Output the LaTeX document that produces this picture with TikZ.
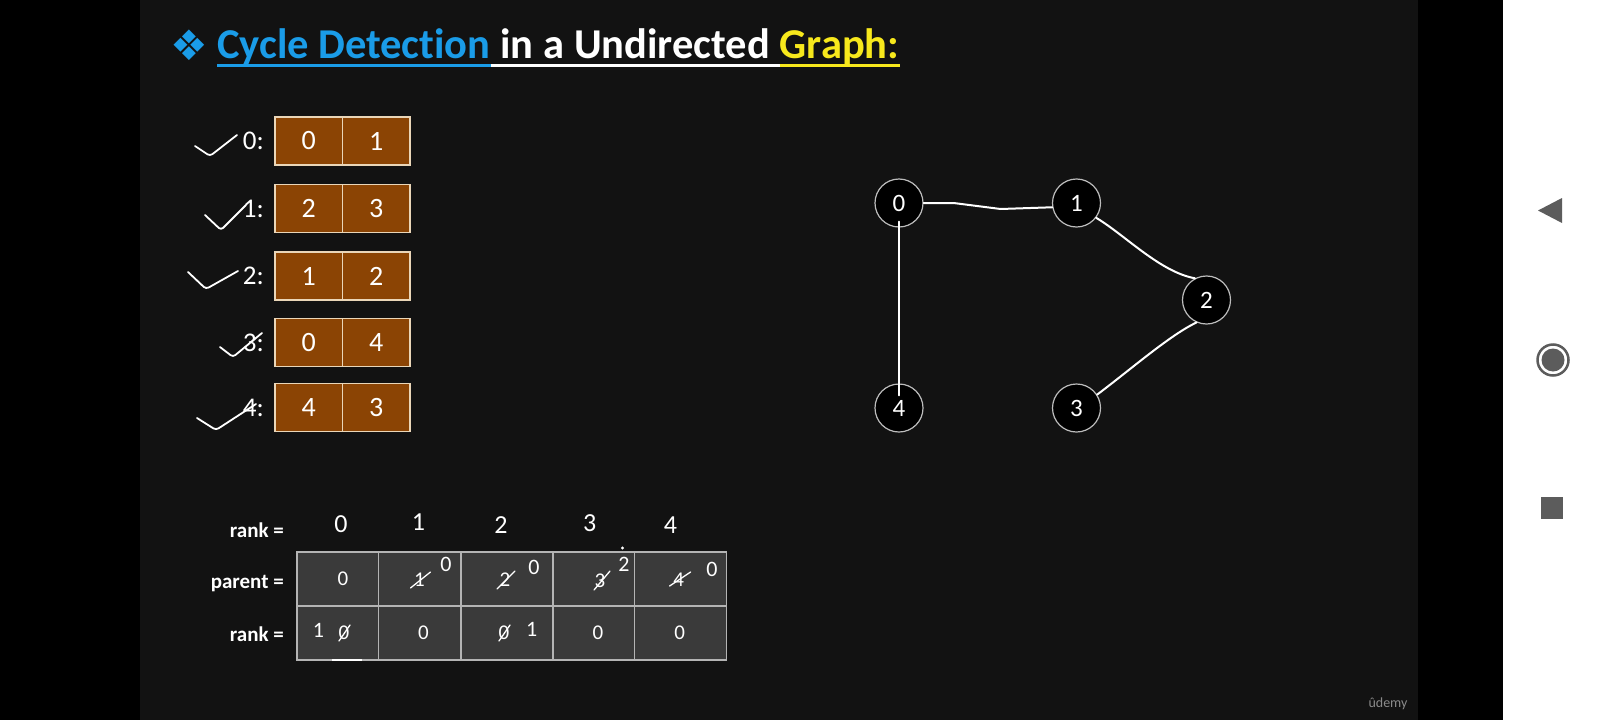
\documentclass[tikz,border=0pt]{standalone}
\usepackage{fontspec}
\setmainfont{Carlito}[Ligatures=CommonOff]
\newfontfamily\djv{DejaVu Sans}
\usetikzlibrary{calc}
\definecolor{slidebg}{HTML}{121212}
\definecolor{tblue}{HTML}{1A9CE8}
\definecolor{tyellow}{HTML}{F7E81C}
\definecolor{boxbrown}{HTML}{8B4404}
\definecolor{boxline}{HTML}{EAD6B8}
\definecolor{cellgray}{HTML}{3A3A3A}
\definecolor{cellline}{HTML}{B4B4B4}
\definecolor{navgray}{HTML}{5C5C5C}
\definecolor{nodeline}{HTML}{BDBDBD}
\definecolor{logogray}{HTML}{8A8A8A}
\begin{document}
\begin{tikzpicture}[x=1pt,y=-1pt,
  adjcell/.style={draw=boxline, line width=1.2pt, fill=boxbrown, minimum width=67.5pt, minimum height=48pt, inner sep=0pt, text=white, font=\fontsize{28}{32}\selectfont},
  adjlabel/.style={anchor=east, text=white, inner sep=0pt, font=\fontsize{27}{31}\selectfont},
  gnode/.style={circle, draw=nodeline, line width=1.2pt, fill=black, minimum size=48pt, inner sep=0pt, text=white, font=\fontsize{25}{29}\selectfont},
  hand/.style={draw=white, line width=1.8pt, line cap=round, line join=round, rounded corners=3pt},
  strike/.style={draw=white, line width=1.3pt, line cap=round},
  edge/.style={draw=white, line width=2pt, line cap=round, line join=round},
  tcell/.style={draw=cellline, line width=1.2pt, fill=cellgray, inner sep=0pt, minimum height=54pt},
  tval/.style={text=white, inner sep=0pt, font=\fontsize{21}{25}\selectfont},
  tlabel/.style={anchor=east, text=white, inner sep=0pt, font=\bfseries\fontsize{21}{25}\selectfont},
  hw/.style={text=white, inner sep=0pt, font=\fontsize{26}{30}\selectfont},
  hws/.style={text=white, inner sep=0pt, font=\fontsize{22}{26}\selectfont},
  ttl/.style={anchor=base west, inner sep=0pt, font=\bfseries\fontsize{42.5}{50}\selectfont},
]
\useasboundingbox (0,0) rectangle (1600,720);
% backgrounds
\fill[black] (0,0) rectangle (1600,720);
\fill[slidebg] (140,0) rectangle (1418,720);
\fill[white] (1503,0) rectangle (1600,720);

% title
\node[text=tblue, font=\djv\fontsize{42}{48}\selectfont, inner sep=0pt] (dia) at (189,45) {❖};
\node[ttl, text=tblue] (t1) at (217,58) {Cycle Detection};
\node[ttl, text=white] (t2) at ([xshift=9.5pt]t1.base east) {in a Undirected};
\node[ttl, text=tyellow] (t3) at ([xshift=9.5pt]t2.base east) {Graph:};
\draw[tblue, line width=3pt] ([yshift=-7pt]t1.base west) -- ([yshift=-7pt]t1.base east);
\draw[white, line width=3pt] ([yshift=-7pt]t1.base east) -- ([yshift=-7pt]t3.base west);
\draw[tyellow, line width=3pt] ([yshift=-7pt]t3.base west) -- ([yshift=-7pt]t3.base east);

% adjacency boxes
\foreach \r/\y/\a/\b in {0/141/0/1, 1/208.5/2/3, 2/276/1/2, 3/342.5/0/4, 4/407.5/4/3} {
  \node[adjcell] (a\r L) at (308.75,\y) {\a};
  \node[adjcell] (a\r R) at (376.25,\y) {\b};
  \node[adjlabel] (lab\r) at (264,\y) {\r:};
}
% check marks
\draw[hand] (195,146) -- (210,156) -- (237,135);
\draw[hand] (205,215) -- (221,230) -- (246,205);
\draw[hand] (188,272) -- (206,289) -- (238,271);
\draw[hand] (220,347) -- (233,357) -- (262,333);
\draw[hand] (197,418) -- (216,430) -- (256,404);

% graph
\node[gnode] (g0) at (899,203) {0};
\node[gnode] (g1) at (1076.5,203) {1};
\node[gnode] (g2) at (1206.5,300) {2};
\node[gnode] (g3) at (1076.5,408) {3};
\node[gnode] (g4) at (899,408) {4};
\draw[edge] (g0.east) -- ++(30,0) -- ++(47,6) -- (g1.190);
\draw[edge, shorten <=-6pt, shorten >=-12pt] (g0.south) -- (g4.north);
\draw[edge] (g1.-37) .. controls (1125,235) and (1160,272) .. (g2.118);
\draw[edge] (g2.246) .. controls (1170,335) and (1130,370) .. (g3.33);

% table labels
\node[tlabel] (lr0) at (284,530.6) {rank =};
\node[tlabel] (lp) at (284,583.7) {parent =};
\node[tlabel] (lr1) at (284,634.7) {rank =};
% top handwritten indices
\node[hw] (i0) at (341,524.5) {0};
\node[hw] (i1) at (418.4,522.5) {1};
\node[hw] (i2) at (501,525.5) {2};
\node[hw] (i3) at (589.8,523.5) {3};
\node[hw] (i4) at (670.4,525.5) {4};

% table cells
\foreach \c/\x/\w in {1/337.75/81.5, 2/419.75/82.5, 3/507/92, 4/593.75/81.5, 5/680.5/92} {
  \node[tcell, minimum width=\w pt] (p\c) at (\x,579) {};
  \node[tcell, minimum width=\w pt] (k\c) at (\x,633) {};
}
\draw[white, line width=1.2pt] (332,660) -- (362,660);

% parent row values
\node[tval] (pv0) at (343,579) {0};
\node[tval] (pv1) at (419.5,580) {1};
\draw[strike] ($(pv1.center)+(-9,8)$) -- ($(pv1.center)+(11,-8)$);
\node[hws] (ps1) at (446,564) {0};
\node[tval] (pv2) at (505,580) {2};
\draw[strike] ($(pv2.center)+(-8,9)$) -- ($(pv2.center)+(10,-9)$);
\node[hws] (ps2) at (534,567) {0};
\node[tval] (pv3) at (600,581) {3};
\draw[strike] ($(pv3.center)+(-6,9)$) -- ($(pv3.center)+(10,-10)$);
\node[hws] (ps3) at (624,564) {2};
\fill[white] (622.5,548) circle (1.6);
\node[tval] (pv4) at (678.6,580) {4};
\draw[strike] ($(pv4.center)+(-9,6)$) -- ($(pv4.center)+(12,-8)$);
\node[hws] (ps4) at (712,569) {0};

% rank row values
\node[hws] (rh0) at (318.5,630) {1};
\node[tval] (rv0) at (344,633) {0};
\draw[strike] ($(rv0.center)+(-5,8)$) -- ($(rv0.center)+(6,-8)$);
\node[tval] (rv1) at (423.5,633) {0};
\node[tval] (rv2) at (504,633) {0};
\draw[strike] ($(rv2.center)+(-5,8)$) -- ($(rv2.center)+(6,-8)$);
\node[hws] (rh2) at (531.6,629) {1};
\node[tval] (rv3) at (598,633) {0};
\node[tval] (rv4) at (679.6,633) {0};

% logo
\node[text=logogray, inner sep=0pt, font=\fontsize{14}{16}\selectfont] (logo) at (1388,704) {ûdemy};

% navigation bar
\fill[navgray] (1538,210.5) -- (1562,198) -- (1562,223) -- cycle;
\draw[navgray, line width=2.5pt] (1553,360) circle (15.5);
\fill[navgray] (1553,360) circle (11.5);
\fill[navgray] (1541,497) rectangle (1563,519);
\end{tikzpicture}
\end{document}
